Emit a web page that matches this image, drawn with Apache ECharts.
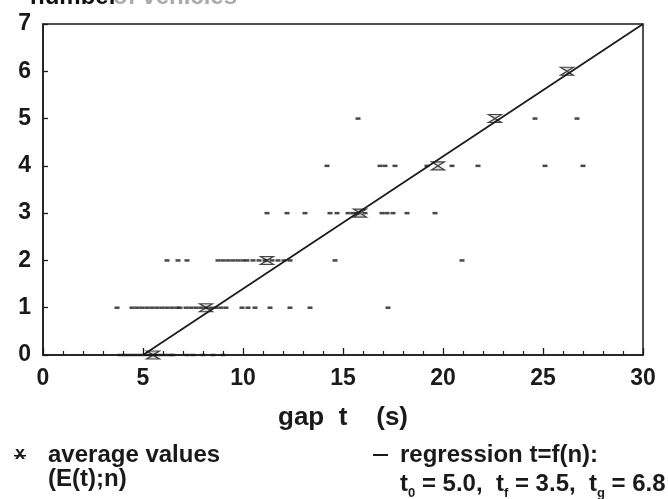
<!DOCTYPE html>
<html><head><meta charset="utf-8">
<script src="https://cdn.jsdelivr.net/npm/echarts@6/dist/echarts.min.js"></script>
<style>html,body{margin:0;padding:0;background:#fff}#c{width:668px;height:499px}</style>
</head><body><div id="c"></div>
<script>
// observed gaps t (s) for each number of vehicles n
const obsN0 = [3.85,4.1,4.35,4.6,4.85,5.1,5.35,5.6,5.85,6.1,6.35,6.5,7.2,7.5,8.0,8.5,9.0];
const obsN1 = [3.7,4.45,4.7,4.95,5.2,5.45,5.7,5.95,6.2,6.45,6.7,6.85,7.15,7.4,7.65,7.9,8.15,8.4,8.65,8.9,9.15,9.95,10.25,10.6,11.35,12.35,13.35,17.25];
const obsN2 = [6.2,6.75,7.2,8.75,9.0,9.25,9.5,9.75,10.0,10.2,10.5,10.8,11.1,11.45,11.75,12.05,12.35,14.6,20.95];
const obsN3 = [11.2,12.2,13.1,14.35,14.7,15.25,15.5,15.7,16.1,16.95,17.2,17.5,18.2,19.6];
const obsN4 = [14.2,16.85,17.1,17.6,19.2,20.45,21.75,25.1,27.0];
const obsN5 = [15.75,24.6,26.7];
const obsN6 = [];
const avgT = [5.5,8.15,11.2,15.85,19.75,22.6,26.2];
const avgN = [0,1,2,3,4,5,6];
const regT = [5,30];
const regN = [0,7];
const xTicks = [0,5,10,15,20,25,30];
const yTicks = [0,1,2,3,4,5,6,7];

const rows = [obsN0,obsN1,obsN2,obsN3,obsN4,obsN5,obsN6];
const obsData = [];
rows.forEach((r,n)=>r.forEach(t=>obsData.push([t,n])));

const FONT = "'Liberation Sans Narrow','Liberation Sans',Arial,sans-serif";
const INK = '#1a1a1a';
const chart = echarts.init(document.getElementById('c'));
chart.setOption({
  animation:false,
  backgroundColor:'#fff',
  grid:{left:43,right:25,top:24,bottom:144,show:true,borderColor:INK,borderWidth:1.5,backgroundColor:'transparent'},
  xAxis:{type:'value',min:xTicks[0],max:xTicks[xTicks.length-1],interval:5,
    axisLine:{onZero:false,lineStyle:{color:INK,width:1.5}},
    axisTick:{show:true,inside:true,length:7,lineStyle:{color:INK,width:1.3}},
    minorTick:{show:true,splitNumber:5,length:4,lineStyle:{color:INK,width:1.2}},
    splitLine:{show:false},
    axisLabel:{color:INK,fontFamily:FONT,fontWeight:'bold',fontSize:23,margin:12},
    name:'gap  t    (s)',nameLocation:'middle',nameGap:50,
    nameTextStyle:{color:INK,fontFamily:FONT,fontWeight:'bold',fontSize:26}},
  yAxis:{type:'value',min:yTicks[0],max:yTicks[yTicks.length-1],interval:1,
    axisLine:{onZero:false,lineStyle:{color:INK,width:1.5}},
    axisTick:{show:true,inside:true,length:5,lineStyle:{color:INK,width:1.3}},
    splitLine:{show:false},
    axisLabel:{color:INK,fontFamily:FONT,fontWeight:'bold',fontSize:23,margin:12}},
  graphic:[
    {type:'text',left:30,top:-15,style:{text:'number',fill:'#111',font:"bold 24px "+FONT}},
    {type:'text',left:113,top:-15,style:{text:'of vehicles',fill:'#aaa',font:"bold 24px "+FONT}},
    {type:'text',left:15,top:445,style:{text:'x',fill:INK,font:"bold 18px "+FONT}},
    {type:'rect',shape:{x:14,y:455,width:12,height:1.5},style:{fill:INK}},
    {type:'text',left:48,top:443,style:{text:'average values\n(E(t);n)',fill:INK,font:"bold 24px "+FONT,lineHeight:24}},
    {type:'rect',shape:{x:373,y:454,width:15,height:2},style:{fill:INK}},
    {type:'text',left:400,top:443,style:{text:'regression t=f(n):',fill:INK,font:"bold 24px "+FONT}},
    {type:'text',left:400,top:472,style:{
      text:'{m|t}{s|0}{m| = 5.0,  t}{s|f}{m| = 3.5,  t}{s|g}{m| = 6.8}',
      rich:{m:{font:"bold 24px "+FONT,fill:INK,verticalAlign:'bottom'},s:{font:"bold 13px "+FONT,fill:INK,verticalAlign:'bottom',padding:[0,0,-4,0]}}}}
  ],
  series:[
    {type:'scatter',data:obsData,symbol:'rect',symbolSize:[5,2.5],itemStyle:{color:INK},z:2},
    {type:'line',data:regT.map((t,i)=>[t,regN[i]]),symbol:'none',lineStyle:{color:INK,width:1.7},z:3},
    {type:'scatter',data:avgT.map((t,i)=>[t,avgN[i]]),symbol:'path://M0,0 L12,0 L0,7 L12,7 Z',symbolSize:[13,8],
      itemStyle:{color:'rgba(0,0,0,0.2)',borderColor:INK,borderWidth:1.4},z:4}
  ]
});
</script></body></html>
